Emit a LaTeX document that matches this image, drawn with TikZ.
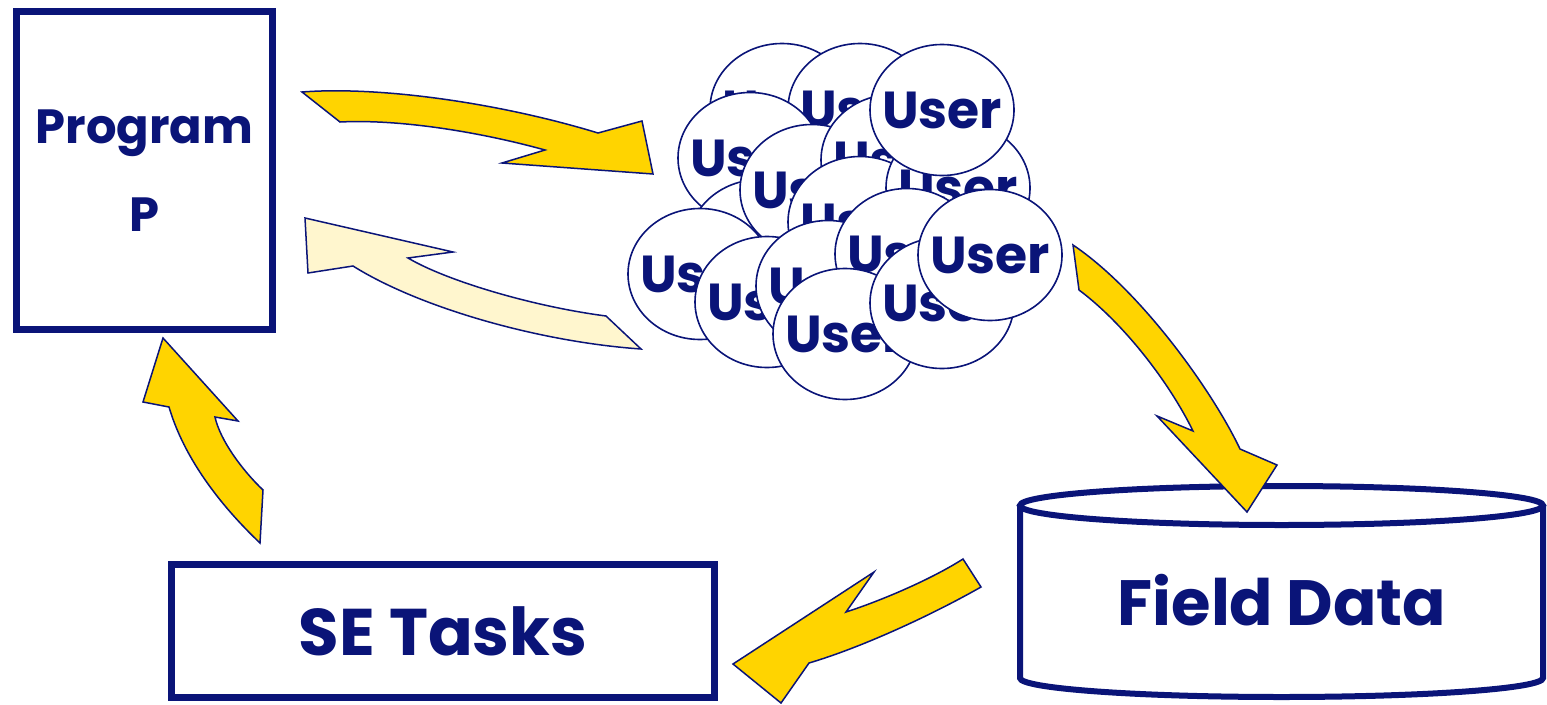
\documentclass[tikz,border=0pt]{standalone}
\usepackage{fontspec}
\setmainfont{Poppins}
\usetikzlibrary{shapes.geometric}
\definecolor{navy}{RGB}{10,20,120}
\definecolor{gold}{RGB}{255,212,0}
\definecolor{paleyellow}{RGB}{255,246,206}
\tikzset{
  box/.style={draw=navy, line width=7pt, fill=white, inner sep=0pt, text=navy},
  usertext/.style={text=navy, inner sep=0pt, font=\fontsize{52}{60}\selectfont\bfseries},
  user/.style={ellipse, draw=navy, fill=white, line width=1.6pt, inner sep=0pt,
    minimum width=144pt, minimum height=131pt, label={[usertext]center:User}},
  bigarrow/.style={draw=navy, line width=1.5pt, line join=miter, fill=gold},
  backarrow/.style={bigarrow, fill=paleyellow}
}
\begin{document}
\begin{tikzpicture}[x=1pt,y=-1pt]
    \useasboundingbox (0,0) rectangle (1547,704);
    \node[box, minimum width=256pt, minimum height=318pt, align=center,
      font=\fontsize{48}{88}\selectfont\bfseries] (prog) at (144.5,170.5) {Program\\P};
    \node[box, minimum width=543pt, minimum height=133pt,
      font=\fontsize{66}{70}\selectfont\bfseries] (tasks) at (443,631) {SE Tasks};
    \foreach \n/\x/\y in {1/782/109, 2/860/109, 4/750/158, 9/760/245, 7/812/190,
        6/893/160, 8/860/222, 5/958/188, 3/942/110, 10/700/274, 11/767/302,
        12/828/286, 13/907/254, 14/845/334, 15/942/303, 16/990/255}
      \node[user] (u\n) at (\x,\y) {};
    \draw[navy, line width=6pt, fill=white] (1020,505) -- (1020,678)
      arc[start angle=180, end angle=0, x radius=261.5, y radius=19] -- (1543,505);
    \draw[navy, line width=6pt, fill=white] (1281.5,505.5) ellipse [x radius=261.5, y radius=19.5];
    \node[text=navy, font=\fontsize{64}{70}\selectfont\bfseries] (field) at (1282,600) {Field Data};
    \draw[bigarrow] (302,92) .. controls (380,86) and (500,103) .. (598,133) -- (642,121)
      -- (653,174) -- (502,163) -- (545,150) .. controls (480,132) and (400,119) .. (340,122) -- cycle;
    \draw[backarrow] (305,218) -- (453,252) -- (408,258) .. controls (445,280) and (530,306) .. (606,316)
      -- (641,349) .. controls (540,342) and (420,308) .. (353,266) -- (308,273) -- cycle;
    \draw[bigarrow] (1073,245) .. controls (1140,290) and (1212,390) .. (1240,449) -- (1277,465)
      -- (1247,512) -- (1157,416) -- (1193,431) .. controls (1168,380) and (1122,322) .. (1079,290) -- cycle;
    \draw[bigarrow] (963,559) -- (981,587) .. controls (930,616) and (860,648) .. (809,663)
      -- (781,703) -- (733,664) -- (874,572) -- (846,612) .. controls (880,601) and (930,580) .. cycle;
    \draw[bigarrow] (163,338) -- (238,421) -- (215,417) .. controls (220,440) and (242,470) .. (263,490)
      -- (260,543) .. controls (220,505) and (184,458) .. (169,407) -- (143,402) -- cycle;
\end{tikzpicture}
\end{document}
